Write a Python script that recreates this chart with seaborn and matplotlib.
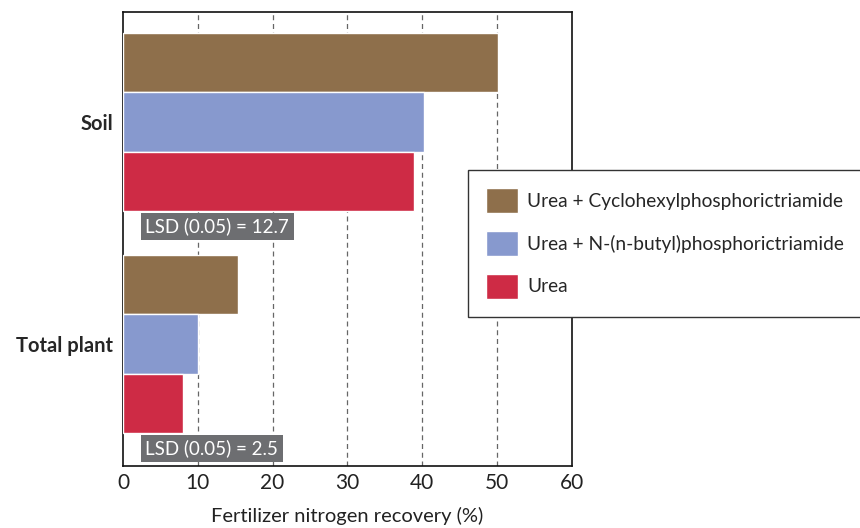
import pandas as pd
import matplotlib.pyplot as plt
import seaborn as sns

# data
compartments = ["Soil", "Total plant"]
treatments = ["Urea + Cyclohexylphosphorictriamide",
              "Urea + N-(n-butyl)phosphorictriamide",
              "Urea"]
recovery_chpt = [50.1, 15.4]
recovery_nbpt = [40.2, 10.0]
recovery_urea = [38.9, 8.0]
lsd_labels = ["LSD (0.05) = 12.7", "LSD (0.05) = 2.5"]

colors = ["#8e6f4b", "#8799ce", "#ce2b45"]

rows = []
for t, vals in zip(treatments, [recovery_chpt, recovery_nbpt, recovery_urea]):
    for c, v in zip(compartments, vals):
        rows.append({"Compartment": c, "Treatment": t, "Recovery": v})
df = pd.DataFrame(rows)

sns.set_style("white")
plt.rcParams['font.family'] = ['Lato', 'DejaVu Sans']

fig = plt.figure(figsize=(8.6, 5.28), dpi=100)
ax = fig.add_axes([0.143, 0.117, 0.522, 0.860])

sns.barplot(data=df, y="Compartment", x="Recovery", hue="Treatment",
            order=compartments, hue_order=treatments, palette=colors,
            orient="h", width=0.8, edgecolor="white", linewidth=1,
            saturation=1, ax=ax, zorder=3)

ax.set_xlim(0, 60)
ax.set_ylim(1.55, -0.495)
ax.set_xticks(range(0, 61, 10))
for gx in range(10, 60, 10):
    ax.axvline(gx, color="#666666", linestyle=(0, (4, 3)), linewidth=0.9, zorder=1)

# LSD boxes under each group
for i, lab in enumerate(lsd_labels):
    ax.text(3.0, i + 0.47, lab, color="white", fontsize=13.5, va="center", ha="left",
            bbox=dict(boxstyle="square,pad=0.25", facecolor="#6d6e71", edgecolor="none"),
            zorder=4)

ax.set_xlabel("Fertilizer nitrogen recovery (%)", fontsize=14.5, color="#222222",
              labelpad=10)
ax.set_ylabel("")
ax.tick_params(axis="x", labelsize=15, length=0, pad=5, colors="#222222")
ax.tick_params(axis="y", length=0, pad=7)
for lbl in ax.get_yticklabels():
    lbl.set_fontweight("bold")
    lbl.set_fontsize(14.5)

for s in ax.spines.values():
    s.set_color("#111111")
    s.set_linewidth(1.2)

ax.legend(loc="upper left", bbox_to_anchor=(0.544, 0.408, 0.47, 0.27),
          bbox_transform=fig.transFigure, mode="expand", borderaxespad=0,
          fontsize=13.8, frameon=True, fancybox=False, edgecolor="#333333",
          framealpha=1, handlelength=1.65, handleheight=1.6,
          labelspacing=0.95, borderpad=0.95, handletextpad=0.5)

fig.savefig("out.png", dpi=100)
